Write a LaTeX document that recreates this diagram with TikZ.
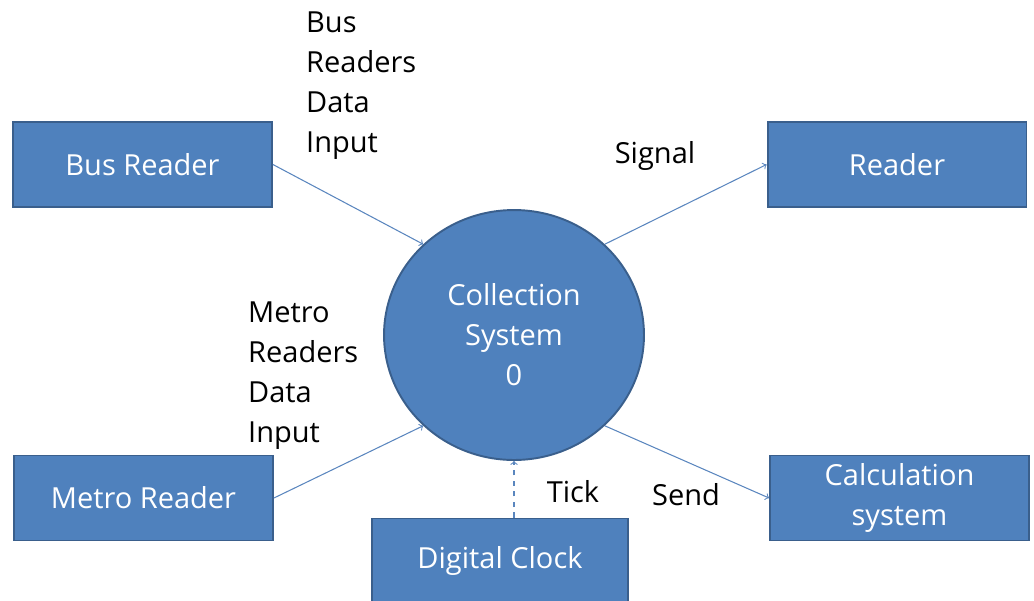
\documentclass[tikz,border=0pt]{standalone}
\usepackage{fontspec}
\setmainfont{Open Sans}
\usetikzlibrary{positioning,arrows,shapes.geometric}
\definecolor{boxblue}{HTML}{4F81BD}
\definecolor{edgeblue}{HTML}{3A5F8C}
\definecolor{linkblue}{HTML}{5A86BE}

\tikzset{
	unitbox/.style={draw=edgeblue,line width=1.1pt,fill=boxblue,text=white,
		minimum width=5.18cm,minimum height=1.7cm,align=center,
		font=\fontsize{16.5}{22.8}\selectfont},
	hub/.style={ellipse,draw=edgeblue,line width=1.1pt,fill=boxblue,text=white,
		minimum width=5.2cm,minimum height=5cm,align=center,
		font=\fontsize{16.5}{22.8}\selectfont},
	flow/.style={-to,linkblue,line width=0.6pt},
	flowlabel/.style={align=left,text=black,font=\fontsize{16.5}{22.8}\selectfont}
}

\begin{document}
\begin{tikzpicture}[x=0.02cm,y=-0.02cm]
	\useasboundingbox (0,0) rectangle (1034,600);
	% boxes and the hub
	\node[hub] (coll) at (514,335) {Collection\\System\\0};
	\node[unitbox] (bus) at (142.5,164.5) {Bus Reader};
	\node[unitbox] (metro) at (143.5,498) {Metro Reader};
	\node[unitbox] (reader) at (897,164.5) {Reader};
	\node[unitbox] (calc) at (899.5,498) {Calculation\\system};
	\node[unitbox,minimum width=5.12cm] (clock) at (500,561) {Digital Clock};
	% flows
	\draw[flow] (bus.east) -- (coll.135);
	\draw[flow] (metro.east) -- (coll.225);
	\draw[flow] (coll.45) -- (reader.west);
	\draw[flow] (coll.-45) -- (calc.west);
	\draw[flow,dashed] (coll.south |- clock.north) -- (coll.south);
	% labels
	\node[flowlabel,anchor=west] (buslbl) at (300,86) {Bus\\Readers\\Data\\Input};
	\node[flowlabel,anchor=west] (metrolbl) at (242,376) {Metro\\Readers\\Data\\Input};
	\node[flowlabel] (signallbl) at (655,156) {Signal};
	\node[flowlabel] (ticklbl) at (573,492) {Tick};
	\node[flowlabel] (sendlbl) at (686,495) {Send};
\end{tikzpicture}
\end{document}
